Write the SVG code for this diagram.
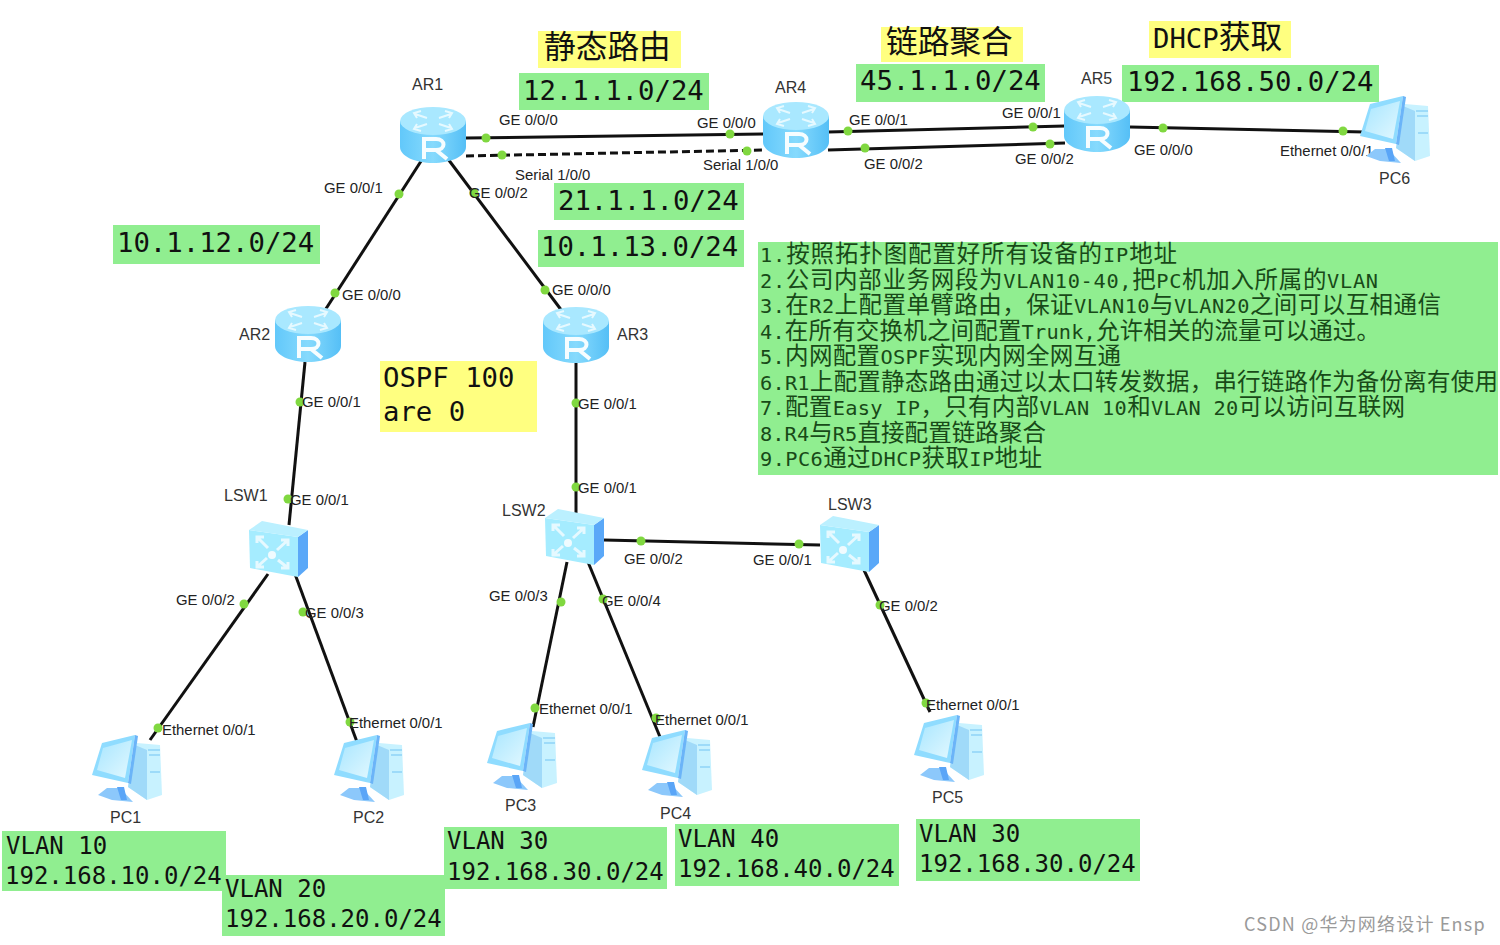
<svg xmlns="http://www.w3.org/2000/svg" width="1500" height="945" viewBox="0 0 1500 945">
<style>
.g{fill:#90ee90}.y{fill:#ffff80}
.m{font-family:"DejaVu Sans Mono","Liberation Mono",monospace;font-size:27.3px;fill:#111}
.m2{font-family:"DejaVu Sans Mono","Liberation Mono",monospace;font-size:24px;fill:#111}
.cn{font-family:"Noto Sans CJK SC",sans-serif;font-size:31.7px;fill:#111}
.l{font-family:"Liberation Sans",Arial,sans-serif;font-size:14.9px;fill:#222}
.n{font-family:"Liberation Sans",Arial,sans-serif;font-size:16px;fill:#333}
.t{font-family:"Noto Sans CJK SC",sans-serif;font-size:23.5px;fill:#184a18}
.t tspan{font-family:"DejaVu Sans Mono",monospace;font-size:20.3px}
.w{font-family:"Noto Sans CJK SC","Liberation Sans",sans-serif;font-size:18px;letter-spacing:1.2px;fill:#9a9a9a}
.c{stroke:#111;stroke-width:3;fill:none}
.d{fill:#80d840}
</style>
<defs>
<linearGradient id="rb" x1="0" x2="1" y1="0" y2="0"><stop offset="0" stop-color="#62c8fa"/><stop offset=".5" stop-color="#86dafd"/><stop offset="1" stop-color="#55bff6"/></linearGradient>
<linearGradient id="pcg" x1="0" x2="1" y1="0" y2="1"><stop offset="0" stop-color="#a8e6ff"/><stop offset="1" stop-color="#e2f8ff"/></linearGradient>
<g id="router">
<path d="M0 15V41C0 50 15 57 33 57S66 50 66 41V15Z" fill="url(#rb)"/>
<ellipse cx="33" cy="15" rx="33" ry="14" fill="#a9e8ff"/>
<path d="M15 8l12 4M21 5l-7 2 3 5M51 8l-12 4M45 5l7 2-3 5M15 22l12-4M21 25l-7-2 3-5M51 22l-12-4M45 25l7-2-3-5" stroke="#e6f9ff" stroke-width="2" fill="none"/>
<path d="M24 53V33H36C46 33 46 44 36 44H24M36 44L47 53" stroke="#f6fdff" stroke-width="4" fill="none"/>
</g>
<g id="switch">
<path d="M0 9L1 47L49 56V16Z" fill="#a5ecff"/>
<path d="M49 16L59 9V47L49 56Z" fill="#5aa8f8"/>
<path d="M0 9L13 0L59 9L49 16Z" fill="#bbf0ff"/>
<circle cx="23" cy="34" r="4" fill="#f0fbff"/>
<path d="M8 16L19 27M8 22V16H15M39 19L28 29M39 25V19H32M8 46L18 37M8 40V46H15M39 47L29 39M39 41V47H32" stroke="#e6f9ff" stroke-width="3" fill="none"/>
</g>
<g id="pc">
<path d="M46 7L69 9L71 59L56 64L37 51Z" fill="#c8f2ff"/>
<path d="M44 9L56 14V64L37 51Z" fill="#a0daf9"/>
<path d="M57 14H69M58 19H69M59 36H69" stroke="#8fd4f8" stroke-width="1.5"/>
<path d="M7 59L16 52H29L42 66L21 64Z" fill="#8cc8fb"/>
<path d="M26 51L33 51L36 64H30Z" fill="#5aa5f7"/>
<path d="M11 7L44 -1L37 47L1 39Z" fill="#8fdcff"/>
<path d="M12 12L41 4L34 42L6 34Z" fill="url(#pcg)"/>
<path d="M44 -1L47 0L40 48L37 47Z" fill="#6bb4f8"/>
</g>
</defs>
<rect width="1500" height="945" fill="#fff"/>

<g id="annotations">
<rect class="y" x="538" y="31" width="143" height="37"/>
<rect class="g" x="519" y="73" width="190" height="37"/>
<rect class="g" x="554" y="183" width="190" height="37"/>
<rect class="g" x="538" y="230" width="206" height="37"/>
<rect class="g" x="113" y="225" width="207" height="39"/>
<rect class="y" x="881" y="27" width="142" height="35"/>
<rect class="g" x="856" y="64" width="189" height="38"/>
<rect class="y" x="1149" y="21" width="142" height="37"/>
<rect class="g" x="1122" y="65" width="257" height="37"/>
<rect class="y" x="380" y="361" width="157" height="71"/>
<rect class="g" x="758" y="242" width="740" height="233"/>
<rect class="g" x="2" y="831" width="224" height="60"/>
<rect class="g" x="222" y="875" width="223" height="61"/>
<rect class="g" x="444" y="827" width="223" height="62"/>
<rect class="g" x="675" y="824" width="224" height="62"/>
<rect class="g" x="916" y="819" width="224" height="62"/>
<text class="cn" x="544" y="58">静态路由</text>
<text class="m" x="523" y="100">12.1.1.0/24</text>
<text class="m" x="558" y="210">21.1.1.0/24</text>
<text class="m" x="541" y="256">10.1.13.0/24</text>
<text class="m" x="117" y="252">10.1.12.0/24</text>
<text class="cn" x="886" y="53">链路聚合</text>
<text class="m" x="860" y="90">45.1.1.0/24</text>
<text x="1153" y="48"><tspan class="m">DHCP</tspan><tspan class="cn">获取</tspan></text>
<text class="m" x="1127" y="91">192.168.50.0/24</text>
<text class="m" x="383" y="387">OSPF 100</text>
<text class="m" x="383" y="421">are 0</text>
<text class="t" x="760" y="262" textLength="417" lengthAdjust="spacing"><tspan>1.</tspan>按照拓扑图配置好所有设备的<tspan>IP</tspan>地址</text>
<text class="t" x="760" y="288" textLength="618" lengthAdjust="spacing"><tspan>2.</tspan>公司内部业务网段为<tspan>VLAN10-40,</tspan>把<tspan>PC</tspan>机加入所属的<tspan>VLAN</tspan></text>
<text class="t" x="760" y="313" textLength="681" lengthAdjust="spacing"><tspan>3.</tspan>在<tspan>R2</tspan>上配置单臂路由，保证<tspan>VLAN10</tspan>与<tspan>VLAN20</tspan>之间可以互相通信</text>
<text class="t" x="760" y="339" textLength="620" lengthAdjust="spacing"><tspan>4.</tspan>在所有交换机之间配置<tspan>Trunk,</tspan>允许相关的流量可以通过。</text>
<text class="t" x="760" y="364" textLength="361" lengthAdjust="spacing"><tspan>5.</tspan>内网配置<tspan>OSPF</tspan>实现内网全网互通</text>
<text class="t" x="760" y="390" textLength="738" lengthAdjust="spacing"><tspan>6.R1</tspan>上配置静态路由通过以太口转发数据，串行链路作为备份离有使用</text>
<text class="t" x="760" y="415" textLength="645" lengthAdjust="spacing"><tspan>7.</tspan>配置<tspan>Easy IP</tspan>，只有内部<tspan>VLAN 10</tspan>和<tspan>VLAN 20</tspan>可以访问互联网</text>
<text class="t" x="760" y="441" textLength="286" lengthAdjust="spacing"><tspan>8.R4</tspan>与<tspan>R5</tspan>直接配置链路聚合</text>
<text class="t" x="760" y="466" textLength="282" lengthAdjust="spacing"><tspan>9.PC6</tspan>通过<tspan>DHCP</tspan>获取<tspan>IP</tspan>地址</text>
<text class="m2" x="6" y="854">VLAN 10</text>
<text class="m2" x="5" y="884">192.168.10.0/24</text>
<text class="m2" x="225" y="897">VLAN 20</text>
<text class="m2" x="225" y="927">192.168.20.0/24</text>
<text class="m2" x="447" y="849">VLAN 30</text>
<text class="m2" x="447" y="880">192.168.30.0/24</text>
<text class="m2" x="678" y="847">VLAN 40</text>
<text class="m2" x="678" y="877">192.168.40.0/24</text>
<text class="m2" x="919" y="842">VLAN 30</text>
<text class="m2" x="919" y="872">192.168.30.0/24</text>
<text class="w" x="1244" y="931">CSDN @华为网络设计 Ensp</text>
</g>

<g id="connectors">
<path class="c" d="M466 138L763 134"/>
<path class="c" d="M466 156L763 150" stroke-dasharray="8 4"/>
<path class="c" d="M828 132L1065 126"/>
<path class="c" d="M828 150L1065 143"/>
<path class="c" d="M1130 127L1365 132"/>
<path class="c" d="M425 155L320 318"/>
<path class="c" d="M445 155L565 315"/>
<path class="c" d="M305 362L289 525"/>
<path class="c" d="M576 362V515"/>
<path class="c" d="M604 540L820 545"/>
<path class="c" d="M268 574L150 740"/>
<path class="c" d="M295 574L357 742"/>
<path class="c" d="M567 562L533 727"/>
<path class="c" d="M588 562L660 737"/>
<path class="c" d="M864 570L930 712"/>
<g class="d">
<circle cx="486" cy="138" r="4.5"/><circle cx="730" cy="134" r="4.5"/>
<circle cx="502" cy="155" r="4.5"/><circle cx="747" cy="151" r="4.5"/>
<circle cx="848" cy="131" r="4.5"/><circle cx="1033" cy="127" r="4.5"/>
<circle cx="865" cy="148" r="4.5"/><circle cx="1050" cy="144" r="4.5"/>
<circle cx="1163" cy="128" r="4.5"/><circle cx="1343" cy="131" r="4.5"/>
<circle cx="399" cy="194" r="4.5"/><circle cx="335" cy="293" r="4.5"/>
<circle cx="474" cy="193" r="4.5"/><circle cx="545" cy="290" r="4.5"/>
<circle cx="300" cy="402" r="4.5"/><circle cx="288" cy="499" r="4.5"/>
<circle cx="576" cy="403" r="4.5"/><circle cx="576" cy="487" r="4.5"/>
<circle cx="641" cy="541" r="4.5"/><circle cx="799" cy="544" r="4.5"/>
<circle cx="244" cy="604" r="4.5"/><circle cx="158" cy="728" r="4.5"/>
<circle cx="303" cy="612" r="4.5"/><circle cx="350" cy="722" r="4.5"/>
<circle cx="561" cy="602" r="4.5"/><circle cx="535" cy="708" r="4.5"/>
<circle cx="603" cy="599" r="4.5"/><circle cx="656" cy="718" r="4.5"/>
<circle cx="880" cy="605" r="4.5"/><circle cx="926" cy="703" r="4.5"/>
</g>
</g>

<g id="port-labels">
<text class="l" x="499" y="125">GE 0/0/0</text>
<text class="l" x="697" y="128">GE 0/0/0</text>
<text class="l" x="515" y="180">Serial 1/0/0</text>
<text class="l" x="703" y="170">Serial 1/0/0</text>
<text class="l" x="849" y="125">GE 0/0/1</text>
<text class="l" x="1002" y="118">GE 0/0/1</text>
<text class="l" x="864" y="169">GE 0/0/2</text>
<text class="l" x="1015" y="164">GE 0/0/2</text>
<text class="l" x="1134" y="155">GE 0/0/0</text>
<text class="l" x="1280" y="156">Ethernet 0/0/1</text>
<text class="l" x="324" y="193">GE 0/0/1</text>
<text class="l" x="469" y="198">GE 0/0/2</text>
<text class="l" x="342" y="300">GE 0/0/0</text>
<text class="l" x="552" y="295">GE 0/0/0</text>
<text class="l" x="302" y="407">GE 0/0/1</text>
<text class="l" x="578" y="409">GE 0/0/1</text>
<text class="l" x="290" y="505">GE 0/0/1</text>
<text class="l" x="578" y="493">GE 0/0/1</text>
<text class="l" x="624" y="564">GE 0/0/2</text>
<text class="l" x="753" y="565">GE 0/0/1</text>
<text class="l" x="176" y="605">GE 0/0/2</text>
<text class="l" x="305" y="618">GE 0/0/3</text>
<text class="l" x="489" y="601">GE 0/0/3</text>
<text class="l" x="602" y="606">GE 0/0/4</text>
<text class="l" x="879" y="611">GE 0/0/2</text>
<text class="l" x="162" y="735">Ethernet 0/0/1</text>
<text class="l" x="349" y="728">Ethernet 0/0/1</text>
<text class="l" x="539" y="714">Ethernet 0/0/1</text>
<text class="l" x="655" y="725">Ethernet 0/0/1</text>
<text class="l" x="926" y="710">Ethernet 0/0/1</text>
</g>

<g id="AR1"><use href="#router" x="400" y="106"/><text class="n" x="412" y="90">AR1</text></g>
<g id="AR2"><use href="#router" x="275" y="305"/><text class="n" x="239" y="340">AR2</text></g>
<g id="AR3"><use href="#router" x="543" y="306"/><text class="n" x="617" y="340">AR3</text></g>
<g id="AR4"><use href="#router" x="763" y="101"/><text class="n" x="775" y="93">AR4</text></g>
<g id="AR5"><use href="#router" x="1064" y="95"/><text class="n" x="1081" y="84">AR5</text></g>
<g id="LSW1"><use href="#switch" x="249" y="521"/><text class="n" x="224" y="501">LSW1</text></g>
<g id="LSW2"><use href="#switch" x="545" y="509"/><text class="n" x="502" y="516">LSW2</text></g>
<g id="LSW3"><use href="#switch" x="820" y="516"/><text class="n" x="828" y="510">LSW3</text></g>
<g id="PC1"><use href="#pc" x="91" y="736"/><text class="n" x="110" y="823">PC1</text></g>
<g id="PC2"><use href="#pc" x="333" y="736"/><text class="n" x="353" y="823">PC2</text></g>
<g id="PC3"><use href="#pc" x="486" y="724"/><text class="n" x="505" y="811">PC3</text></g>
<g id="PC4"><use href="#pc" x="641" y="731"/><text class="n" x="660" y="819">PC4</text></g>
<g id="PC5"><use href="#pc" x="913" y="716"/><text class="n" x="932" y="803">PC5</text></g>
<g id="PC6"><use href="#pc" x="1359" y="97"/><text class="n" x="1379" y="184">PC6</text></g>
</svg>
